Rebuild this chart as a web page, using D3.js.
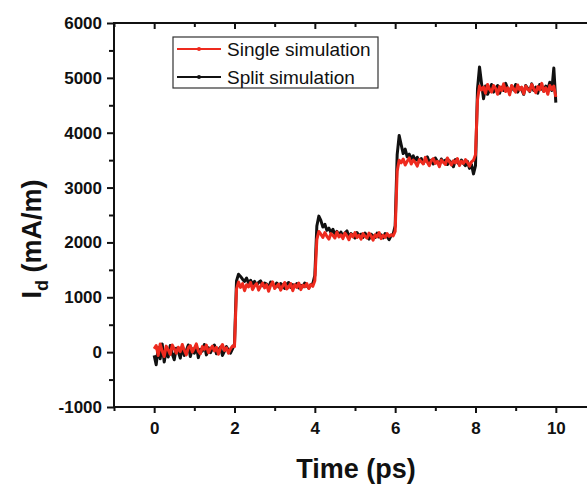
<!DOCTYPE html>
<html>
<head>
<meta charset="utf-8">
<script src="https://cdn.jsdelivr.net/npm/d3@7"></script>
<style>
body{margin:0;background:#fff;}
text{font-family:"Liberation Sans",Arial,sans-serif;}
</style>
</head>
<body>
<svg id="chart" width="587" height="488"></svg>
<script>
// sampling step of both simulations (ps)
var timeStep=0.05;

var xTicks=[0,2,4,6,8,10];
var yTicks=[-1000,0,1000,2000,3000,4000,5000,6000];
var seriesNames=["Single simulation","Split simulation"];

// Id (mA/m), one value per time step
var singleSim=[
 60,120,-60,150,20,-80,110,40,-40,130,60,-20,90,10,140,30,-50,80,120,0,
 70,150,20,-30,100,50,130,-10,60,110,20,90,-40,70,140,30,80,-20,60,110,
 100,
 1150,1280,1180,1250,1120,1230,1190,1270,1140,1210,1250,1130,1200,1260,1170,1230,1110,1220,1280,1160,
 1200,1240,1130,1210,1270,1150,1190,1250,1120,1230,1180,1260,1140,1220,1190,1250,1160,1230,1200,
 1300,
 2050,2200,2150,2090,2180,2110,2060,2160,2130,2080,2190,2100,2140,2070,2170,2120,2050,2150,2100,2180,
 2090,2130,2060,2160,2110,2080,2170,2120,2040,2140,2100,2180,2070,2130,2090,2160,2110,2140,2120,
 2200,
 3300,3500,3450,3520,3410,3480,3540,3430,3500,3460,3390,3510,3470,3430,3550,3460,3400,3490,3530,3440,
 3480,3380,3500,3460,3420,3540,3470,3410,3490,3450,3530,3400,3480,3440,3510,3460,3390,3470,3500,
 3600,
 4600,4850,4780,4830,4720,4880,4790,4740,4860,4810,4700,4840,4770,4890,4750,4820,4690,4860,4800,4740,
 4870,4780,4830,4710,4850,4790,4760,4880,4800,4730,4840,4780,4900,4750,4820,4700,4860,4790,4850,4650
];
var splitSim=[
 -60,-230,80,-120,150,-180,40,-90,120,-30,-140,70,10,-110,100,-60,30,130,-80,60,
 -20,110,-100,50,20,140,-50,80,-10,60,130,-30,40,90,-60,20,100,40,-20,60,
 150,
 1300,1420,1380,1330,1290,1350,1260,1310,1240,1290,1220,1270,1300,1210,1260,1240,1180,1280,1230,1200,
 1260,1190,1250,1220,1160,1240,1270,1180,1230,1200,1250,1170,1220,1190,1260,1210,1170,1230,1250,
 1400,
 2300,2480,2400,2280,2330,2220,2260,2180,2240,2150,2200,2130,2190,2110,2170,2210,2100,2160,2130,2080,
 2180,2120,2150,2090,2170,2110,2060,2150,2120,2090,2170,2100,2140,2080,2160,2110,2050,2130,2150,
 2300,
 3600,3950,3780,3620,3700,3560,3610,3520,3580,3490,3550,3470,3530,3440,3510,3560,3460,3500,3430,3540,
 3480,3410,3520,3470,3500,3420,3490,3450,3380,3510,3460,3420,3500,3440,3400,3480,3350,3420,3250,
 3400,
 4800,5200,4900,4620,4850,4700,4780,4880,4740,4810,4860,4720,4830,4770,4900,4800,4730,4850,4780,4880,
 4740,4820,4790,4700,4860,4810,4750,4890,4770,4830,4720,4880,4800,4760,4850,4790,4920,4770,5180,4550
];

var svg=d3.select("#chart");
var x=d3.scaleLinear().domain([-1,11]).range([114,596]);
var y=d3.scaleLinear().domain([-1000,6000]).range([407,23]);
var fmt=function(d){return String(d)}; // plain hyphen for negatives

var line=d3.line()
	.x(function(d,i){return x(i*timeStep)})
	.y(function(d){return y(d)});

// black under red, as in the figure
svg.append("path").datum(splitSim)
	.attr("d",line).attr("fill","none")
	.attr("stroke","#111").attr("stroke-width",3).attr("stroke-linejoin","round");
svg.append("path").datum(singleSim)
	.attr("d",line).attr("fill","none")
	.attr("stroke","#ee2a1e").attr("stroke-width",3).attr("stroke-linejoin","round");

//axes
var xMinor=d3.range(-1,12,1);
var yMinor=d3.range(-1000,6001,500);

var bottom=svg.append("g").attr("transform","translate(0,407)")
	.call(d3.axisBottom(x).tickValues(xTicks).tickSize(6).tickPadding(9).tickFormat(fmt));
var bottomMinor=svg.append("g").attr("transform","translate(0,407)")
	.call(d3.axisBottom(x).tickValues(xMinor.filter(function(d){return d%2!=0})).tickSize(4).tickFormat(""));
var top_=svg.append("g").attr("transform","translate(0,23)")
	.call(d3.axisBottom(x).tickValues(xTicks).tickSize(6).tickFormat(""));
var topMinor=svg.append("g").attr("transform","translate(0,23)")
	.call(d3.axisBottom(x).tickValues(xMinor.filter(function(d){return d%2!=0})).tickSize(4).tickFormat(""));
var left=svg.append("g").attr("transform","translate(114,0)")
	.call(d3.axisLeft(y).tickValues(yTicks).tickSize(7).tickPadding(5).tickFormat(fmt));
var leftMinor=svg.append("g").attr("transform","translate(114,0)")
	.call(d3.axisLeft(y).tickValues(yMinor.filter(function(d){return d%1000!=0})).tickSize(5).tickFormat(""));

svg.selectAll(".domain").remove();
svg.selectAll(".tick line").attr("stroke","#111").attr("stroke-width",2);
svg.selectAll(".tick text").attr("fill","#111")
	.style("font-size","17px").style("font-weight","bold");

// frame
svg.append("line").attr("x1",114).attr("x2",114).attr("y1",22).attr("y2",408).attr("stroke","#111").attr("stroke-width",2);
svg.append("line").attr("x1",113).attr("x2",596).attr("y1",407).attr("y2",407).attr("stroke","#111").attr("stroke-width",2);
svg.append("line").attr("x1",113).attr("x2",596).attr("y1",23).attr("y2",23).attr("stroke","#111").attr("stroke-width",2);

// titles
svg.append("text").attr("x",356).attr("y",478).attr("text-anchor","middle")
	.style("font-size","27px").style("font-weight","bold").attr("fill","#111")
	.text("Time (ps)");
var yt=svg.append("text").attr("transform","translate(41,239) rotate(-90)")
	.attr("text-anchor","middle").style("font-size","27px").style("font-weight","bold").attr("fill","#111");
yt.append("tspan").text("I");
yt.append("tspan").attr("dy",7).style("font-size","18px").text("d");
yt.append("tspan").attr("dy",-7).text(" (mA/m)");

// legend
var legend=svg.append("g").attr("transform","translate(173,37)");
legend.append("rect").attr("width",205).attr("height",51)
	.attr("fill","#fff").attr("stroke","#333").attr("stroke-width",1.2);
var colors=["#ee2a1e","#111"];
var items=legend.selectAll("g.item").data(seriesNames).enter().append("g")
	.attr("class","item")
	.attr("transform",function(d,i){return "translate(0,"+(12+i*28)+")"});
items.append("line").attr("x1",4).attr("x2",48).attr("y1",0).attr("y2",0)
	.attr("stroke",function(d,i){return colors[i]}).attr("stroke-width",2);
items.append("circle").attr("cx",26).attr("cy",0).attr("r",2)
	.attr("fill",function(d,i){return colors[i]});
items.append("text").attr("x",54).attr("y",7)
	.style("font-size","19px").attr("fill","#111")
	.text(function(d){return d});
</script>
</body>
</html>
